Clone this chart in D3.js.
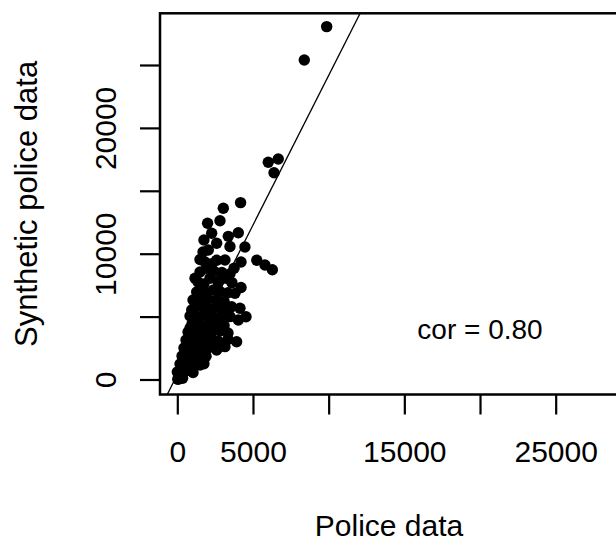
<!DOCTYPE html>
<html>
<head>
<meta charset="utf-8">
<script src="https://cdn.jsdelivr.net/npm/d3@7"></script>
<style>
  body { margin: 0; background: #fff; }
  text { font-family: "Liberation Sans", Arial, sans-serif; fill: #000; }
</style>
</head>
<body>
<div class="chart"></div>
<script>
// Police data (x) vs synthetic police data (y)
var policeData = [
  9870, 8390, 6010, 6670, 6390, 4180, 3040, 2820, 2000, 4030,
  2270, 3370, 1760, 2600, 3480, 4470, 1500, 2600, 5250, 5790,
  6280, 4210, 3750, 1940, 1170, 2160, 3220, 4210, 1280, 2380,
  3590, 4140, 4540, 4030, 950, 840, 3920, 3150, 2600, 1500,
  180,
  1700, 2050, 1830, 2290, 3150, 1500, 2420, 2950, 3480,
  1370, 1760, 2690, 3610, 1830, 2820, 3350, 3810,
  1040, 1500, 2030, 2560, 3090, 1110, 1700, 2230, 2760, 3220,
  840, 1370, 1900, 2420, 2950, 3480, 970, 1500, 2030, 2560, 3090,
  710, 1240, 1760, 2290, 2820, 3350, 575, 1100, 1630, 2160, 2690, 3350,
  440, 970, 1500, 2030, 2560, 310, 840, 1370, 1900,
  180, 710, 1240, 1760, 0, 510, 1040, 100, 350, 30
];
var syntheticData = [
  28050, 25400, 17270, 17530, 16440, 14060, 13610, 12620, 12420, 11670,
  11620, 11380, 11090, 10830, 10570, 10530, 9540, 9480, 9480, 9100,
  8730, 9340, 8840, 8840, 8050, 8050, 8050, 7310, 6960, 7120,
  5790, 5660, 4990, 4730, 5530, 4070, 3000, 2610, 2350, 1150,
  100,
  10140, 10300, 9340, 9200, 9500, 8550, 8600, 8500, 8400,
  7750, 7600, 7800, 7700, 6960, 7000, 6900, 6850,
  6320, 6250, 6400, 6300, 6200, 5680, 5750, 5600, 5700, 5650,
  5050, 5000, 5100, 4950, 5050, 5000, 4410, 4350, 4450, 4400, 4300,
  3780, 3700, 3800, 3750, 3850, 3700, 3140, 3200, 3100, 3150, 3050, 3200,
  2500, 2450, 2550, 2500, 2450, 1870, 1800, 1900, 1850,
  1230, 1300, 1200, 1250, 600, 650, 550, 50, 100, 20
];

var xTicks = [0, 5000, 10000, 15000, 20000, 25000];
var xTickLabels = ["0", "5000", "", "15000", "", "25000"];
var yTicks = [0, 5000, 10000, 15000, 20000, 25000];
var yTickLabels = ["0", "", "10000", "", "20000", ""];

// lm fit drawn as abline
var fitIntercept = 387;
var fitSlope = 2.378;
var corLabel = "cor = 0.80";

var svgWidth = 616;
var svgHeight = 543;

// plot box (right edge runs off the image)
var box = {left: 160, right: 618, top: 13.3, bottom: 394.5};

var svg = d3.select(".chart")
    .append("svg")
    .attr("width", svgWidth)
    .attr("height", svgHeight);

var points = policeData.map(function(d, i) {
    return {x: d, y: syntheticData[i]};
});

// Scales (4% padded ranges as in base R)
var xLinearScale = d3.scaleLinear()
    .domain([-1143, 29117])
    .range([box.left, box.right]);

var yLinearScale = d3.scaleLinear()
    .domain([-1192, 29109])
    .range([box.bottom, box.top]);

svg.append("clipPath")
    .attr("id", "plotClip")
    .append("rect")
    .attr("x", box.left)
    .attr("y", box.top)
    .attr("width", box.right - box.left)
    .attr("height", box.bottom - box.top);

// Points
svg.append("g")
    .attr("clip-path", "url(#plotClip)")
    .selectAll("circle")
    .data(points)
    .enter()
    .append("circle")
    .attr("cx", d => xLinearScale(d.x))
    .attr("cy", d => yLinearScale(d.y))
    .attr("r", 5.7)
    .attr("fill", "#000");

// Regression line
var xd = xLinearScale.domain();
svg.append("line")
    .attr("clip-path", "url(#plotClip)")
    .attr("x1", xLinearScale(xd[0]))
    .attr("y1", yLinearScale(fitIntercept + fitSlope * xd[0]))
    .attr("x2", xLinearScale(xd[1]))
    .attr("y2", yLinearScale(fitIntercept + fitSlope * xd[1]))
    .attr("stroke", "#000")
    .attr("stroke-width", 1.3);

// Box
svg.append("rect")
    .attr("x", box.left)
    .attr("y", box.top)
    .attr("width", box.right - box.left)
    .attr("height", box.bottom - box.top)
    .attr("fill", "none")
    .attr("stroke", "#000")
    .attr("stroke-width", 2.5);

// X axis
var bottomAxis = d3.axisBottom(xLinearScale)
    .tickValues(xTicks)
    .tickFormat((d, i) => xTickLabels[i])
    .tickSize(20)
    .tickPadding(26);

var xAxis = svg.append("g")
    .attr("transform", `translate(0, ${box.bottom})`)
    .call(bottomAxis);
xAxis.select(".domain").remove();
xAxis.selectAll("line").attr("stroke", "#000").attr("stroke-width", 2.2);
xAxis.selectAll("text").style("font-size", "30px").attr("fill", "#000");

// Y axis
var leftAxis = d3.axisLeft(yLinearScale)
    .tickValues(yTicks)
    .tickFormat((d, i) => yTickLabels[i])
    .tickSize(20);

var yAxis = svg.append("g")
    .attr("transform", `translate(${box.left}, 0)`)
    .call(leftAxis);
yAxis.select(".domain").remove();
yAxis.selectAll("line").attr("stroke", "#000").attr("stroke-width", 2.2);
yAxis.selectAll("text")
    .attr("transform", "rotate(-90)")
    .attr("x", 0)
    .attr("y", -44)
    .attr("dy", 0)
    .attr("text-anchor", "middle")
    .attr("fill", "#000")
    .style("font-size", "30px");

// cor annotation
svg.append("text")
    .attr("x", xLinearScale(20000))
    .attr("y", yLinearScale(4000))
    .attr("dy", "0.35em")
    .attr("text-anchor", "middle")
    .style("font-size", "28px")
    .text(corLabel);

// Axis labels
svg.append("text")
    .attr("transform", `translate(${(box.left + box.right) / 2}, 536)`)
    .attr("text-anchor", "middle")
    .style("font-size", "30px")
    .text("Police data");

svg.append("text")
    .attr("transform", `translate(37, ${(box.top + box.bottom) / 2}) rotate(-90)`)
    .attr("text-anchor", "middle")
    .style("font-size", "31px")
    .text("Synthetic police data");
</script>
</body>
</html>
